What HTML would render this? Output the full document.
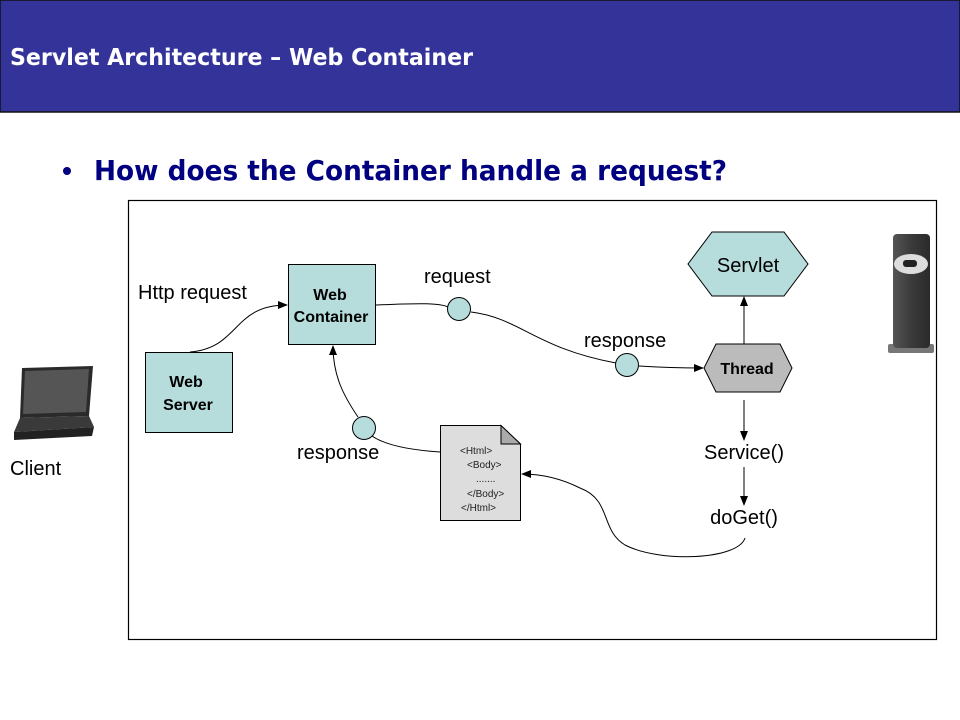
<!DOCTYPE html>
<html><head><meta charset="utf-8"><style>
html,body{margin:0;padding:0;background:#fff;}
svg{display:block;}
</style></head><body>
<svg width="960" height="720" viewBox="0 0 960 720" xmlns="http://www.w3.org/2000/svg" font-family="Liberation Sans, Arial, sans-serif">
<defs>
<marker id="a" markerWidth="10" markerHeight="8" refX="9" refY="4" orient="auto" markerUnits="userSpaceOnUse">
<path d="M0,0 L10,4 L0,8 z" fill="#000"/></marker>
<linearGradient id="srv" x1="0" x2="1"><stop offset="0" stop-color="#555"/><stop offset="0.5" stop-color="#3a3a3a"/><stop offset="1" stop-color="#2a2a2a"/></linearGradient>
</defs>
<rect x="0" y="0" width="960" height="112" fill="#343399"/>
<rect x="0" y="0" width="960" height="112" fill="none" stroke="#111" stroke-width="1.5"/>
<text x="10" y="65" fill="#fff" font-size="23" font-weight="bold" font-family="DejaVu Sans, sans-serif" textLength="463" lengthAdjust="spacingAndGlyphs">Servlet Architecture – Web Container</text>
<circle cx="67" cy="171" r="4" fill="#000080"/>
<text x="94" y="180" fill="#000080" font-size="28" font-weight="bold" font-family="DejaVu Sans, sans-serif" textLength="633" lengthAdjust="spacingAndGlyphs">How does the Container handle a request?</text>
<rect x="128.5" y="200.5" width="808" height="439" fill="none" stroke="#000" stroke-width="1.2"/>

<!-- laptop -->
<path d="M22,368 L93,366 L89,416 L20,418 z" fill="#2a2a2a"/>
<path d="M25,371 L89,369 L86,412 L23,414 z" fill="#555"/>
<path d="M20,418 L89,416 L94,427 L14,432 z" fill="#3a3a3a"/>
<path d="M14,432 L94,427 L92,436 L14,440 z" fill="#222"/>
<text x="10" y="475" font-size="20">Client</text>

<!-- server -->
<rect x="888" y="344" width="46" height="9" rx="2" fill="#777"/>
<rect x="893" y="234" width="37" height="114" rx="4" fill="url(#srv)"/>
<ellipse cx="911" cy="264" rx="17" ry="10" fill="#ddd"/>
<rect x="903" y="260" width="14" height="7" rx="3" fill="#222"/>

<rect x="145.5" y="352.5" width="87" height="80" fill="#b7dcdc" stroke="#000"/>
<text x="186" y="387" font-size="16" font-weight="bold" text-anchor="middle">Web</text>
<text x="188" y="410" font-size="16" font-weight="bold" text-anchor="middle">Server</text>
<rect x="288.5" y="264.5" width="87" height="80" fill="#b7dcdc" stroke="#000"/>
<text x="330" y="300" font-size="16" font-weight="bold" text-anchor="middle">Web</text>
<text x="331" y="322" font-size="16" font-weight="bold" text-anchor="middle">Container</text>

<polygon points="712,232 784,232 808,264 784,296 712,296 688,264" fill="#b7dcdc" stroke="#000"/>
<text x="748" y="272" font-size="20" text-anchor="middle">Servlet</text>
<polygon points="716,344 780,344 792,368 780,392 716,392 704,368" fill="#bbb" stroke="#000"/>
<text x="747" y="374" font-size="16" font-weight="bold" text-anchor="middle">Thread</text>

<path d="M440.5,425.5 L501,425.5 L520.5,444 L520.5,520.5 L440.5,520.5 z" fill="#ddd" stroke="#000"/>
<path d="M501,425.5 L501,444 L520.5,444 z" fill="#aaa" stroke="#000"/>
<g font-size="10" fill="#222">
<text x="460" y="454">&lt;Html&gt;</text>
<text x="467" y="468">&lt;Body&gt;</text>
<text x="476" y="482">.......</text>
<text x="467" y="497">&lt;/Body&gt;</text>
<text x="461" y="511">&lt;/Html&gt;</text>
</g>

<g fill="none" stroke="#000" stroke-width="1">
<path d="M190,352 C240,348 232,305 287,305" marker-end="url(#a)"/>
<path d="M376,305 C420,303 440,303 448,307"/>
<path d="M471,312 C520,318 535,348 616,363"/>
<path d="M639,366 C670,368 690,368 703,368" marker-end="url(#a)"/>
<path d="M744,344 L744,297" marker-end="url(#a)"/>
<path d="M744,400 L744,440" marker-end="url(#a)"/>
<path d="M744,467 L744,505" marker-end="url(#a)"/>
<path d="M745,538 C738,560 660,563 625,545 C600,530 612,500 580,488 C560,478 540,474 522,474" marker-end="url(#a)"/>
<path d="M440,452 C410,450 385,445 372,436"/>
<path d="M358,417 C343,395 333,375 333,346" marker-end="url(#a)"/>
</g>
<circle cx="459" cy="309" r="11.5" fill="#b7dcdc" stroke="#000"/>
<circle cx="627" cy="365" r="11.5" fill="#b7dcdc" stroke="#000"/>
<circle cx="364" cy="428" r="11.5" fill="#b7dcdc" stroke="#000"/>

<g font-size="20">
<text x="138" y="299">Http request</text>
<text x="424" y="283">request</text>
<text x="584" y="347">response</text>
<text x="297" y="459">response</text>
<text x="744" y="459" text-anchor="middle">Service()</text>
<text x="744" y="524" text-anchor="middle">doGet()</text>
</g>
</svg>
</body></html>
